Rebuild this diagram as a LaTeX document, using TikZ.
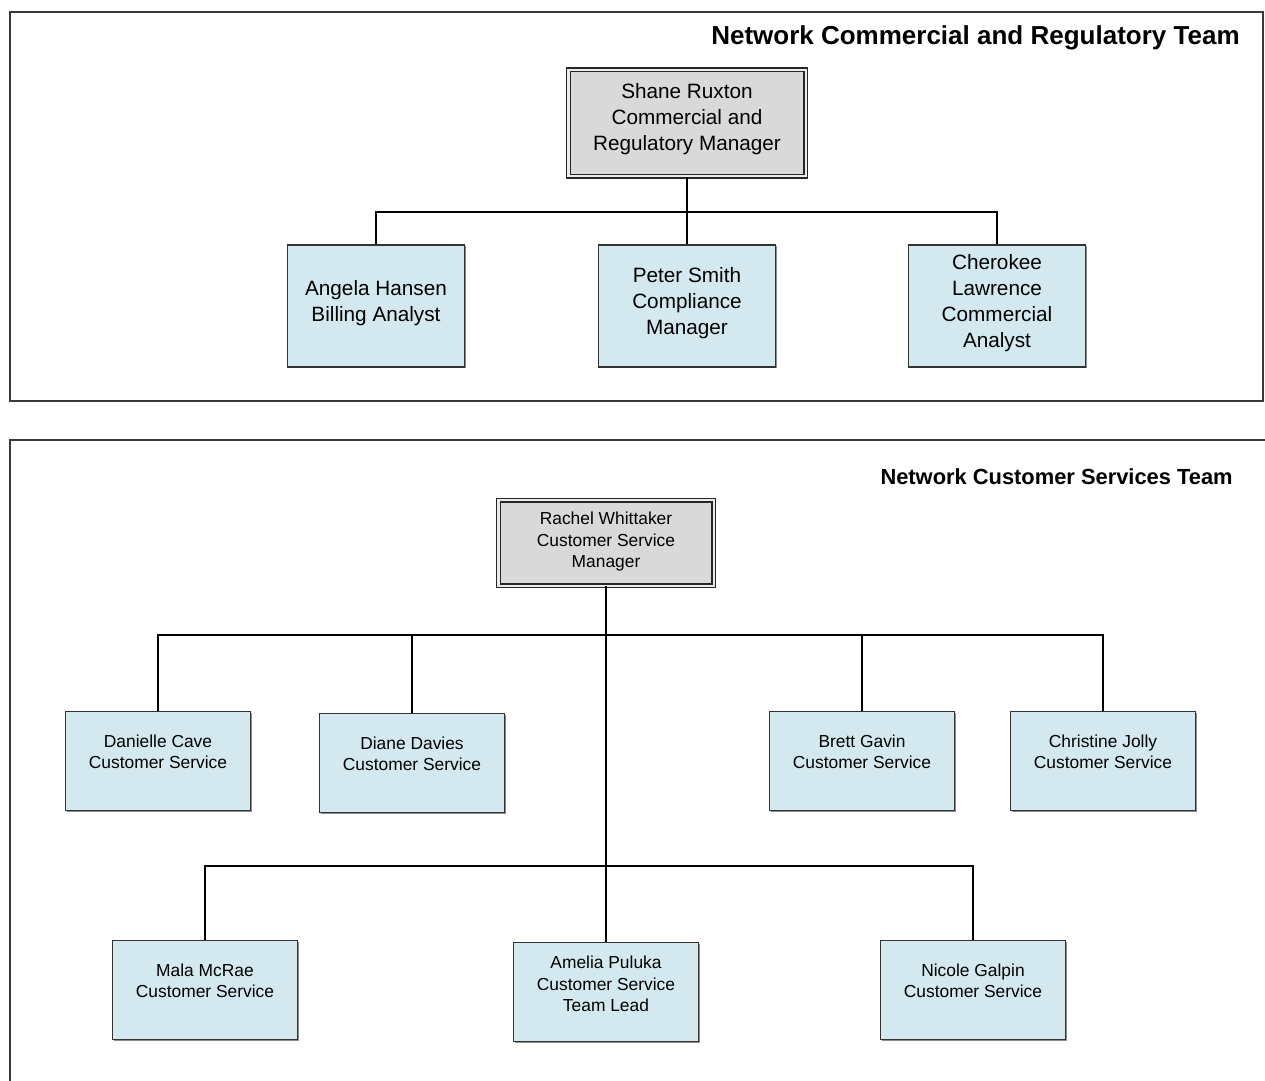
\documentclass[tikz,border=0pt]{standalone}
\usepackage{fontspec}
\setmainfont{Liberation Sans}
\usepackage{tikz}
\usetikzlibrary{positioning,calc,shadows}
\definecolor{staffblue}{HTML}{D3E9EF}
\definecolor{mgrgrey}{HTML}{D9D9D9}
\definecolor{framegrey}{HTML}{3A3A3A}

\begin{document}
\begin{tikzpicture}[x=0.02cm,y=-0.02cm,
  frame/.style={draw=framegrey,line width=1.1pt},
  staff/.style={draw=black!80,line width=0.9pt,fill=staffblue,
    drop shadow={shadow xshift=0.7pt,shadow yshift=-0.7pt,fill=black!45,opacity=1}},
  mgr/.style={draw=black!85,line width=0.8pt,double=black!8,double distance=1.4pt,fill=mgrgrey},
  link/.style={draw=black,line width=0.9pt},
  title/.style={anchor=east,inner sep=0pt},
  topfont/.style={align=center,font=\fontsize{11.8}{14.8}\selectfont,yshift=#1},
  topfont/.default=0.06cm,
  lowfont/.style={align=center,font=\fontsize{9.9}{12.2}\selectfont,yshift=#1},
  lowfont/.default=0.18cm]
  \useasboundingbox (0,0) rectangle (1265,1081);
  % commercial and regulatory team
  \draw[frame] (10,12) rectangle (1263,401);
  \node[title,font=\bfseries\fontsize{14.8}{16}\selectfont] (toptitle) at (1240,38) {Network Commercial and Regulatory Team};
  \node[mgr,minimum width=4.75cm,minimum height=2.13cm,
    label={[topfont=0.08cm]center:{Shane Ruxton\\Commercial and\\Regulatory Manager}}] (shane) at (687,123) {};
  \node[staff,minimum width=3.54cm,minimum height=2.44cm,
    label={[topfont]center:{Angela Hansen\\Billing Analyst}}] (angela) at (376,306) {};
  \node[staff,minimum width=3.54cm,minimum height=2.44cm,
    label={[topfont]center:{Peter Smith\\Compliance\\Manager}}] (peter) at (687,306) {};
  \node[staff,minimum width=3.54cm,minimum height=2.44cm,
    label={[topfont]center:{Cherokee\\Lawrence\\Commercial\\Analyst}}] (cherokee) at (997,306) {};
  \coordinate (topbus) at (687,212);
  \draw[link] (shane.south) -- (peter.north);
  \draw[link] (angela.north) |- (topbus) -| (cherokee.north);

  % customer services team
  \draw[frame] (10,1090) -- (10,440) -- (1275,440);
  \node[title,font=\bfseries\fontsize{12.45}{14}\selectfont] (lowtitle) at (1233,477) {Network Customer Services Team};
  \node[mgr,minimum width=4.31cm,minimum height=1.71cm,
    label={[lowfont=0.03cm]center:{Rachel Whittaker\\Customer Service\\Manager}}] (rachel) at (606,543) {};
  \foreach \nm/\x/\y/\who in {danielle/158/761/Danielle Cave,diane/412/763/Diane Davies,brett/862/761/Brett Gavin,christine/1103/761/Christine Jolly,mala/205/990/Mala McRae,nicole/973/990/Nicole Galpin}{
    \node[staff,minimum width=3.7cm,minimum height=1.98cm,
      label={[lowfont]center:{\who\\Customer Service}}] (\nm) at (\x,\y) {};
  }
  \node[staff,minimum width=3.7cm,minimum height=1.98cm,
    label={[lowfont=0.16cm]center:{Amelia Puluka\\Customer Service\\Team Lead}}] (amelia) at (606,992) {};
  \coordinate (busa) at (606,635);
  \coordinate (busb) at (606,866);
  \draw[link] (rachel.south) -- (amelia.north);
  \draw[link] (danielle.north) |- (busa) -| (christine.north);
  \draw[link] (diane.north) -- (diane.north |- busa);
  \draw[link] (brett.north) -- (brett.north |- busa);
  \draw[link] (mala.north) |- (busb) -| (nicole.north);
\end{tikzpicture}
\end{document}
